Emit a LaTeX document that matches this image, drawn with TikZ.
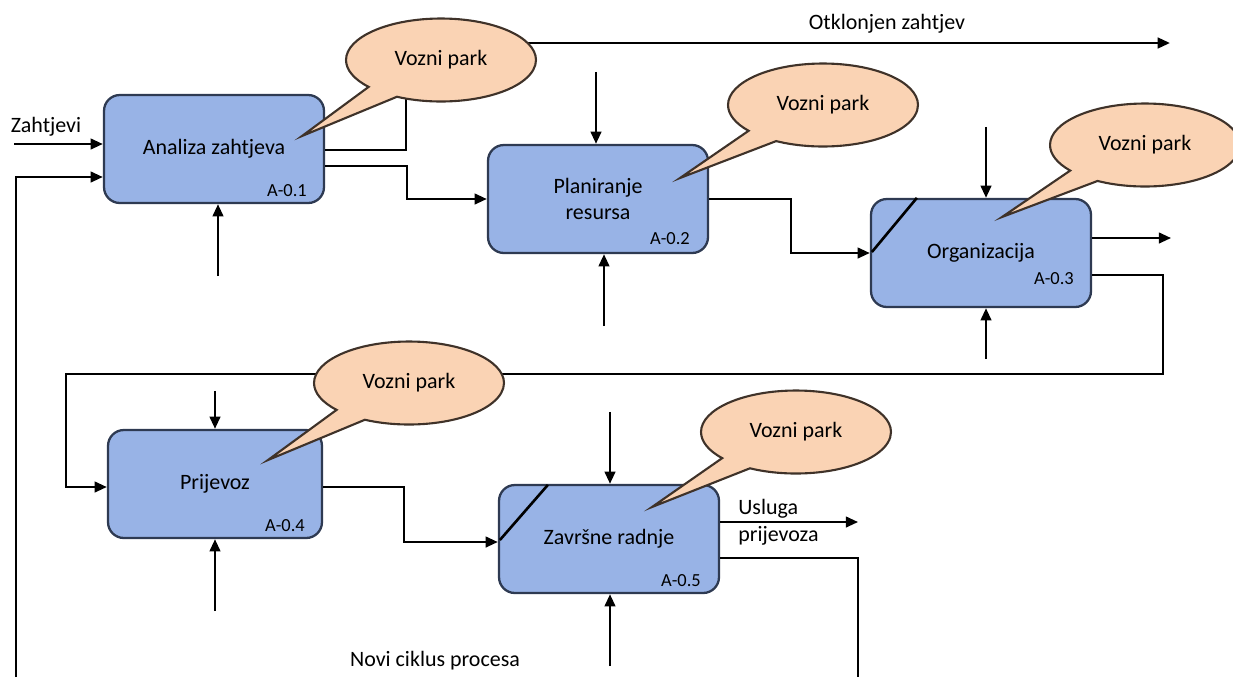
\documentclass[tikz,border=0pt]{standalone}
\usepackage{fontspec}
\setmainfont{Carlito}
\usetikzlibrary{arrows.meta,shapes.geometric,shapes.callouts}
\definecolor{bleuboite}{HTML}{98B3E6}
\definecolor{bordboite}{HTML}{2E3A52}
\definecolor{peche}{HTML}{FAD3B4}
\definecolor{bordbulle}{HTML}{3F3229}

\begin{document}
\begin{tikzpicture}[x=0.02cm, y=-0.02cm,
  boite/.style={draw=bordboite, line width=1.3pt, fill=bleuboite, rounded corners=9pt,
    minimum width=4.4cm, minimum height=2.16cm, inner sep=0pt, align=center,
    font=\fontsize{12.5}{15}\selectfont},
  bulle/.style={ellipse callout, draw=bordbulle, line width=1.2pt, fill=peche,
    minimum width=3.8cm, minimum height=1.66cm, inner sep=0pt, callout pointer arc=22,
    font=\fontsize{12.5}{15}\selectfont},
  fleche/.style={line width=1.5pt, -{Triangle[length=7pt,width=6pt]}},
  ligne/.style={line width=1.5pt},
  etiq/.style={font=\fontsize{12.5}{15.5}\selectfont, inner sep=0pt},
  code/.style={font=\fontsize{10.5}{12}\selectfont, inner sep=0pt, anchor=base east}]
  \useasboundingbox (0,0) rectangle (1233,677);

  % dessiner les boites
  \node[boite] (analiza) at (214,149) {Analiza zahtjeva};
  \node[boite] (planiranje) at (598,199) {Planiranje\\resursa};
  \node[boite] (organizacija) at (981,253) {Organizacija};
  \node[boite, minimum width=4.28cm] (prijevoz) at (215,484) {Prijevoz};
  \node[boite] (zavrsne) at (609,539) {Završne radnje};
  \node[code] at ([shift={(-18,-8)}]analiza.south east) {A-0.1};
  \node[code] at ([shift={(-19,-10)}]planiranje.south east) {A-0.2};
  \node[code] at ([shift={(-18,-24)}]organizacija.south east) {A-0.3};
  \node[code] at ([shift={(-18,-8)}]prijevoz.south east) {A-0.4};
  \node[code] at ([shift={(-19,-8)}]zavrsne.south east) {A-0.5};
  \draw[ligne] ([shift={(2,-1)}]organizacija.west) -- ([shift={(47,0)}]organizacija.north west);
  \draw[ligne] ([shift={(2,1)}]zavrsne.west) -- ([shift={(50,1)}]zavrsne.north west);

  % dessiner les flèches
  \draw[fleche] (14,144) coordinate (zahtjevi) -- (zahtjevi -| analiza.west);
  \node[etiq] at (46,127) {Zahtjevi};
  \draw[fleche] (16,677) coordinate (ciklus) |- ([shift={(0,28)}]analiza.west);
  \draw[fleche] ([shift={(0,1)}]analiza.east) -| (406,43) -- (1170,43) coordinate (otklonjen);
  \node[etiq] at (887,24) {Otklonjen zahtjev};
  \draw[fleche] ([shift={(0,17)}]analiza.east) -- ++(82,0) |- (planiranje.west);
  \draw[fleche] (planiranje.east) -- ++(82,0) |- (organizacija.west);
  \draw[fleche] ([shift={(0,-15)}]organizacija.east) -- ++(79,0) coordinate (sortie);
  \draw[fleche] ([shift={(0,22)}]organizacija.east) -- ++(71,0) |- (66,374) |- ([shift={(0,3)}]prijevoz.west);
  \draw[fleche] ([shift={(0,3)}]prijevoz.east) -- ++(81,0) |- ([shift={(0,3)}]zavrsne.west);
  \draw[fleche] ([shift={(0,-17)}]zavrsne.east) -- ++(138,0) coordinate (usluga);
  \node[etiq, anchor=west, align=left] at (738,522) {Usluga\\prijevoza};
  \draw[ligne] ([shift={(0,19)}]zavrsne.east) -| (858,677) coordinate (novi);
  \node[etiq] at (435,661) {Novi ciklus procesa};
  \foreach \b/\dx/\lg in {planiranje/-2/72, organizacija/5/71, prijevoz/0/38, zavrsne/1/72}
    \draw[fleche] ([shift={(\dx,-\lg)}]\b.north) -- ([shift={(\dx,0)}]\b.north);
  \foreach \b/\dx/\lg in {analiza/4/72, planiranje/6/72, organizacija/5/51, prijevoz/0/72, zavrsne/1/72}
    \draw[fleche] ([shift={(\dx,\lg)}]\b.south) -- ([shift={(\dx,0)}]\b.south);

  % dessiner les bulles
  \node[bulle, callout absolute pointer={([shift={(88,-13)}]analiza.center)}] (bulle1) at (441,60) {Vozni park};
  \node[bulle, callout absolute pointer={([shift={(82,-21)}]planiranje.center)}] (bulle2) at (823,105) {Vozni park};
  \node[bulle, callout absolute pointer={([shift={(21,-36)}]organizacija.center)}] (bulle3) at (1145,145) {Vozni park};
  \node[bulle, callout absolute pointer={([shift={(53,-24)}]prijevoz.center)}] (bulle4) at (409,383) {Vozni park};
  \node[bulle, callout absolute pointer={([shift={(43,-32)}]zavrsne.center)}] (bulle5) at (796,432) {Vozni park};
\end{tikzpicture}
\end{document}
